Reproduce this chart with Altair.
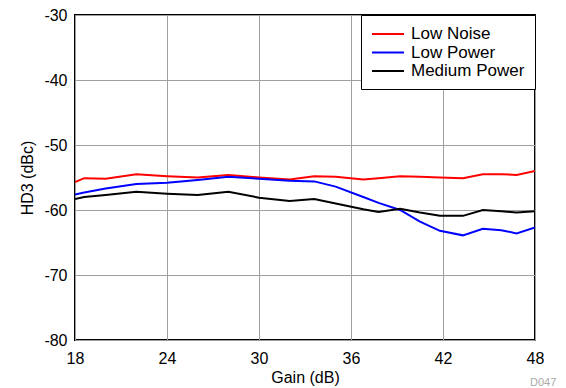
import altair as alt
import pandas as pd

gain = [18, 18.6, 20, 22, 24, 26, 28, 30, 32, 33.6, 35, 36.8, 37.8, 39.2, 40.5, 41.8, 43.3, 44.6, 45.8, 46.8, 48]
low_noise = [-55.7, -55.1, -55.2, -54.5, -54.8, -55.0, -54.6, -55.0, -55.3, -54.8, -54.9, -55.3, -55.1, -54.8, -54.9, -55.0, -55.1, -54.5, -54.5, -54.6, -54.0]
low_power = [-57.6, -57.3, -56.7, -56.0, -55.8, -55.4, -54.9, -55.2, -55.5, -55.6, -56.4, -58.0, -58.9, -60.0, -61.8, -63.2, -63.9, -62.9, -63.1, -63.6, -62.7]
medium_power = [-58.3, -58.0, -57.7, -57.2, -57.5, -57.7, -57.2, -58.1, -58.6, -58.3, -59.0, -59.9, -60.3, -59.8, -60.4, -60.9, -60.9, -60.0, -60.2, -60.4, -60.2]

series_names = ["Low Noise", "Low Power", "Medium Power"]
series_colors = ["#ff0000", "#0000ff", "#000000"]
x_ticks = [18, 24, 30, 36, 42, 48]
y_ticks = [-80, -70, -60, -50, -40, -30]

rows = []
for name, vals in zip(series_names, [low_noise, low_power, medium_power]):
    for g, v in zip(gain, vals):
        rows.append({"Gain": g, "HD3": v, "Series": name})
df = pd.DataFrame(rows)

FONT = "Liberation Sans"

lines = alt.Chart(df).mark_line(strokeWidth=2, clip=True).encode(
    x=alt.X("Gain:Q", scale=alt.Scale(domain=[18, 48], nice=False),
            axis=alt.Axis(values=x_ticks, title="Gain (dB)", grid=True, ticks=False,
                          domain=False, labelPadding=10, titlePadding=3,
                          labelFlush=False, labelExpr="datum.value + ''")),
    y=alt.Y("HD3:Q", scale=alt.Scale(domain=[-80, -30], nice=False),
            axis=alt.Axis(values=y_ticks, title="HD3 (dBc)", grid=True, ticks=False,
                          domain=False, labelPadding=8, titlePadding=8,
                          labelExpr="datum.value + ''")),
    color=alt.Color("Series:N",
                    scale=alt.Scale(domain=series_names, range=series_colors),
                    legend=alt.Legend(title=None, orient="top-right", offset=0,
                                      symbolType="M-1,0H3", symbolStrokeWidth=2,
                                      symbolSize=256, labelFontSize=17, labelFont=FONT,
                                      labelColor="black", rowPadding=1.5,
                                      fillColor="white", strokeColor="black",
                                      padding=10, labelOffset=22, cornerRadius=0)),
)

top_rule = alt.Chart(pd.DataFrame({"a": [0]})).mark_rule(color="black", strokeWidth=1, clip=False).encode(
    x=alt.value(-75), x2=alt.value(491), y=alt.value(-14)
)

code_text = alt.Chart(pd.DataFrame({"t": ["D047"]})).mark_text(
    font=FONT, fontSize=11, color="#aaaaaa", align="left", baseline="alphabetic", clip=False
).encode(text="t:N", x=alt.value(455), y=alt.value(371))

chart = alt.layer(lines, top_rule, code_text).properties(
    width=460, height=325,
    autosize=alt.AutoSizeParams(type="none"),
    padding={"left": 67, "top": 7, "right": 23, "bottom": 50},
    background="white",
).configure_view(
    stroke="black", strokeWidth=2
).configure_axis(
    labelFont=FONT, titleFont=FONT, labelFontSize=16, titleFontSize=16,
    labelColor="black", titleColor="black", titleFontWeight="normal",
    gridColor="#a0a0a0", gridWidth=1, gridOpacity=1
)

chart.save("out.html", embed_options={"renderer": "svg", "actions": False})
